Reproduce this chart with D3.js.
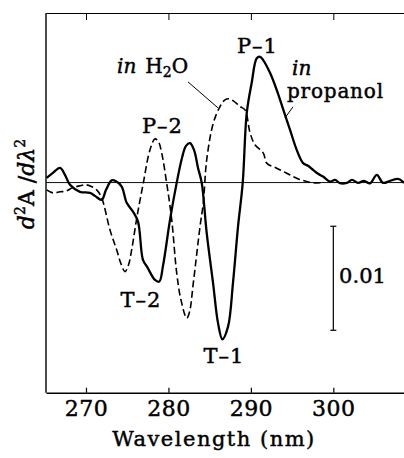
<!DOCTYPE html>
<html>
<head>
<meta charset="utf-8">
<script src="https://cdn.jsdelivr.net/npm/d3@7"></script>
<style>
  body { margin: 0; background: #fff; }
  svg text { font-family: "DejaVu Serif", "Liberation Serif", serif; fill: #000; stroke: #000; stroke-width: 0.45px; }
</style>
</head>
<body>
<div class="figure"></div>
<script>
// second derivative spectra, values in units of 1e-3
const wlPropanol = [265.23, 265.99, 266.85, 267.45, 268.06, 269.27, 270.49, 271.09, 271.90, 272.43,
  273.12, 273.64, 274.33, 274.94, 275.70, 276.31, 276.91, 277.40, 278.37, 278.89,
  279.34, 280.19, 281.00, 281.65, 282.13, 282.62, 283.10, 283.59, 284.04, 284.64,
  285.41, 286.01, 286.54, 287.23, 287.83, 288.44, 289.01, 289.50, 290.10, 290.71,
  291.11, 291.47, 292.32, 293.13, 293.94, 294.75, 295.56, 296.33, 296.93, 297.54,
  298.15, 298.75, 299.60, 300.21, 300.81, 301.63, 302.27, 303.00, 303.73, 304.45,
  305.27, 306.03, 306.88, 307.85, 308.58];
const d2Propanol = [0.45, 0.93, 1.41, 0.74, -0.22, -0.89, -0.99, -1.28, -1.66, -0.70,
  0.21, 0.12, -0.38, -1.95, -2.79, -3.75, -7.43, -8.08, -9.36, -9.52,
  -8.01, -3.59, -0.03, 2.38, 3.53, 3.79, 3.14, 1.41, -0.03, -4.84,
  -9.64, -13.49, -15.06, -13.85, -9.64, -4.23, -0.03, 6.70, 9.59, 11.96,
  12.09, 11.80, 10.55, 8.91, 6.99, 5.07, 3.14, 1.87, 1.61, 1.22,
  0.84, 0.58, 0.10, 0.26, -0.06, -0.03, 0.26, -0.03, 0.16, -0.08,
  0.74, -0.03, 0.16, 0.36, -0.03];

const wlWater = [265.23, 265.99, 266.85, 267.66, 268.30, 268.87, 270.08, 270.73, 271.30, 271.90,
  272.91, 273.72, 274.25, 274.73, 275.16, 275.54, 276.19, 276.95, 277.76, 278.37,
  278.80, 279.18, 279.79, 280.40, 281.00, 281.52, 282.22, 282.56, 283.02, 283.83,
  284.23, 284.64, 285.44, 286.26, 286.86, 287.35, 287.87, 288.68, 289.29, 289.90,
  290.50, 291.51, 291.92, 293.13, 294.35, 295.56, 296.77, 297.78, 298.75];
const d2Water = [-0.70, -0.99, -0.89, -0.80, -0.51, -0.38, -0.22, -0.41, -0.70, -1.47,
  -4.55, -6.47, -7.82, -8.56, -7.91, -6.47, -3.27, -0.06, 3.14, 4.20,
  3.91, 2.86, -0.06, -3.59, -8.68, -11.28, -13.04, -12.43, -9.64, -4.23,
  -1.95, 2.18, 5.71, 7.31, 7.95, 8.05, 7.86, 7.31, 6.99, 4.78,
  3.63, 2.83, 1.87, 1.38, 0.90, 0.42, 0.10, -0.03, 0];

const xTicks = [270, 280, 290, 300];

// peak labels: [text, wavelength, value]
const peakLabels = [
  ['P\u20131', 290.8, 12.47],
  ['P\u20132', 279.28, 4.75],
  ['T\u20132', 276.67, -11.95],
  ['T\u20131', 286.74, -17.34]
];

const svg = d3.select('.figure')
  .append('svg')
  .attr('width', 404)
  .attr('height', 458);

const x = d3.scaleLinear()
  .domain([265.15, 309.3])
  .range([46, 410]);

const y = d3.scaleLinear()
  .domain([-20.2, 16.3])
  .range([392.7, 13]);

// frame: bottom + top axes, left line
const xAxis = d3.axisBottom(x)
  .tickValues(xTicks)
  .tickSizeInner(-5)
  .tickSizeOuter(0)
  .tickPadding(8);

const xAxisGroup = svg.append('g')
  .attr('transform', `translate(0, ${y.range()[0]})`)
  .call(xAxis);
xAxisGroup.select('.domain').attr('stroke-width', 1.4);
xAxisGroup.selectAll('.tick line').attr('stroke-width', 1.2);
xAxisGroup.selectAll('.tick text')
  .attr('font-size', 22)
  .attr('letter-spacing', 0.5)
  .attr('font-family', '"DejaVu Serif", serif');

const topAxis = svg.append('g')
  .attr('transform', `translate(0, ${y.range()[1]})`)
  .call(d3.axisTop(x).tickValues(xTicks).tickSizeInner(-7).tickSizeOuter(0).tickFormat(''));
topAxis.select('.domain').attr('stroke-width', 1.2);

svg.append('line')
  .attr('x1', x.range()[0]).attr('x2', x.range()[0])
  .attr('y1', y.range()[1]).attr('y2', y.range()[0])
  .attr('stroke', '#000')
  .attr('stroke-width', 1.4);

// zero line
svg.append('line')
  .attr('x1', x.range()[0]).attr('x2', x.range()[1])
  .attr('y1', y(0)).attr('y2', y(0))
  .attr('stroke', '#111')
  .attr('stroke-width', 1);

const line = d3.line()
  .x(d => x(d[0]))
  .y(d => y(d[1]))
  .curve(d3.curveCatmullRom.alpha(0.5));

svg.append('path')
  .datum(d3.zip(wlWater, d2Water))
  .attr('d', line)
  .attr('fill', 'none')
  .attr('stroke', '#000')
  .attr('stroke-width', 1.6)
  .attr('stroke-dasharray', '7,3.5');

svg.append('path')
  .datum(d3.zip(wlPropanol, d2Propanol))
  .attr('d', line)
  .attr('fill', 'none')
  .attr('stroke', '#000')
  .attr('stroke-width', 2.3)
  .attr('stroke-linejoin', 'round');

// scale bar 0.01 (= 10 units)
const barX = x(300);
const barTop = y(-4.2), barBottom = y(-14.2);
const bar = svg.append('g').attr('stroke', '#000').attr('stroke-width', 1.2);
bar.append('line').attr('x1', barX).attr('x2', barX).attr('y1', barTop).attr('y2', barBottom);
bar.append('line').attr('x1', barX - 3).attr('x2', barX + 3).attr('y1', barTop).attr('y2', barTop);
bar.append('line').attr('x1', barX - 3).attr('x2', barX + 3).attr('y1', barBottom).attr('y2', barBottom);
svg.append('text')
  .attr('x', x(300.7)).attr('y', y(-9.64))
  .attr('font-size', 21)
  .text('0.01');

// peak / trough labels
svg.selectAll('.peak')
  .data(peakLabels)
  .enter().append('text')
    .attr('class', 'peak')
    .attr('x', d => x(d[1]))
    .attr('y', d => y(d[2]))
    .attr('text-anchor', 'middle')
    .attr('font-size', 21)
    .attr('letter-spacing', 1)
    .text(d => d[0]);

// solvent labels
const h2o = svg.append('text')
  .attr('x', x(273.76)).attr('y', y(10.55))
  .attr('font-size', 20);
h2o.append('tspan').attr('font-style', 'italic').text('in');
h2o.append('tspan').attr('dx', 9).text('H');
h2o.append('tspan').attr('font-size', 14).attr('dy', 4).text('2');
h2o.append('tspan').attr('dy', -4).text('O');

svg.append('text')
  .attr('x', x(294.99)).attr('y', y(10.35))
  .attr('font-size', 20)
  .attr('font-style', 'italic')
  .text('in');
svg.append('text')
  .attr('x', x(294.38)).attr('y', y(8.14))
  .attr('font-size', 20)
  .attr('letter-spacing', 0.8)
  .text('propanol');

// leader lines
svg.append('line')
  .attr('x1', x(282.37)).attr('y1', y(9.68))
  .attr('x2', x(286.01)).attr('y2', y(7.18))
  .attr('stroke', '#000').attr('stroke-width', 1);
svg.append('line')
  .attr('x1', x(295.11)).attr('y1', y(7.28))
  .attr('x2', x(294.14)).attr('y2', y(6.22))
  .attr('stroke', '#000').attr('stroke-width', 1);

// axis titles
const yLabel = svg.append('text')
  .attr('transform', 'translate(34, 184) rotate(-90)')
  .attr('text-anchor', 'middle')
  .attr('font-size', 22);
yLabel.append('tspan').attr('font-style', 'italic').text('d');
yLabel.append('tspan').attr('font-size', 14).attr('dy', -9).text('2');
yLabel.append('tspan').attr('dy', 9).text('A /');
yLabel.append('tspan').attr('font-style', 'italic').text('d\u03bb');
yLabel.append('tspan').attr('font-size', 14).attr('dy', -9).text('2');

svg.append('text')
  .attr('x', 214).attr('y', 446)
  .attr('text-anchor', 'middle')
  .attr('font-size', 21)
  .attr('letter-spacing', 1.5)
  .text('Wavelength (nm)');
</script>
</body>
</html>
